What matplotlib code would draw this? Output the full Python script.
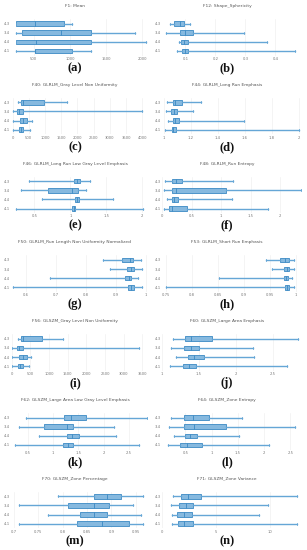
import matplotlib
matplotlib.use("Agg")
import matplotlib.pyplot as plt

W, H = 307, 550
fig = plt.figure(figsize=(W / 100, H / 100), dpi=100)

# category labels, top to bottom
categories = ["4-3", "3-4", "4-4", "4-1"]

titles = [
    "F1: Mean", "F12: Shape_Sphericity",
    "F40: GLRLM_Gray Level Non Uniformity", "F44: GLRLM_Long Run Emphasis",
    "F46: GLRLM_Long Run Low Gray Level Emphasis", "F48: GLRLM_Run Entropy",
    "F50: GLRLM_Run Length Non Uniformity Normalized", "F53: GLRLM_Short Run Emphasis",
    "F56: GLSZM_Gray Level Non Uniformity", "F60: GLSZM_Large Area Emphasis",
    "F62: GLSZM_Large Area Low Gray Level Emphasis", "F64: GLSZM_Zone Entropy",
    "F70: GLSZM_Zone Percentage", "F71: GLSZM_Zone Variance",
]
letters = ["(a)", "(b)", "(c)", "(d)", "(e)", "(f)", "(g)",
           "(h)", "(i)", "(j)", "(k)", "(l)", "(m)", "(n)"]

# [whisker low, Q1, median, Q3, whisker high] per category (top to bottom)
f1 = [[256, 256, 514, 914, 1033], [256, 343, 881, 1287, 1894],
      [256, 256, 536, 1287, 2045], [256, 514, 522, 1024, 1287]]
f12 = [[0.050, 0.063, 0.082, 0.097, 0.116], [0.037, 0.083, 0.098, 0.125, 0.297],
       [0.080, 0.087, 0.097, 0.109, 0.373], [0.072, 0.090, 0.100, 0.110, 0.465]]
f40 = [[173, 265, 318, 975, 1666], [0, 142, 204, 327, 4000],
       [0, 235, 327, 432, 605], [0, 204, 256, 309, 534]]
f44 = [[1.022, 1.064, 1.079, 1.134, 1.272], [1.017, 1.054, 1.077, 1.099, 1.213],
       [1.032, 1.069, 1.084, 1.109, 1.596], [1.010, 1.057, 1.069, 1.092, 2.000]]
f46 = [[0.43, 1.056, 1.097, 1.14, 1.28], [0.32, 0.686, 1.03, 1.10, 1.22],
       [0.61, 1.06, 1.09, 1.12, 1.59], [0.25, 1.03, 1.05, 1.07, 2.01]]
f48 = [[0.056, 0.163, 0.24, 0.343, 1.21], [0.04, 0.163, 0.24, 1.09, 2.36],
       [0.09, 0.17, 0.21, 0.264, 1.18], [0.04, 0.123, 0.163, 0.42, 1.80]]
f50 = [[0.857, 0.920, 0.948, 0.958, 0.983], [0.882, 0.938, 0.952, 0.961, 0.986],
       [0.682, 0.932, 0.943, 0.952, 0.975], [0.559, 0.941, 0.952, 0.962, 0.988]]
f53 = [[0.943, 0.970, 0.979, 0.987, 0.996], [0.954, 0.977, 0.982, 0.987, 0.997],
       [0.851, 0.976, 0.980, 0.984, 0.993], [0.750, 0.979, 0.983, 0.987, 0.997]]
f56 = [[177, 257, 311, 820, 1383], [16, 150, 204, 303, 3420],
       [16, 204, 295, 402, 525], [16, 177, 230, 295, 472]]
f60 = [[1.15, 1.316, 1.40, 1.684, 2.85], [1.128, 1.30, 1.387, 1.505, 2.23],
       [1.193, 1.35, 1.44, 1.566, 2.255], [1.114, 1.29, 1.368, 1.466, 2.70]]
f62 = [[0.46, 1.223, 1.356, 1.652, 2.85], [0.328, 0.822, 1.27, 1.401, 2.21],
       [0.723, 1.27, 1.381, 1.514, 2.245], [0.249, 1.20, 1.29, 1.401, 2.69]]
f64 = [[0.228, 0.475, 0.652, 0.951, 1.58], [0.184, 0.475, 0.671, 1.27, 2.584],
       [0.285, 0.50, 0.584, 0.729, 1.53], [0.17, 0.405, 0.527, 0.824, 2.095]]
f70 = [[0.79, 0.865, 0.89, 0.92, 0.965], [0.71, 0.81, 0.865, 0.895, 0.945],
       [0.77, 0.835, 0.865, 0.89, 0.96], [0.71, 0.83, 0.88, 0.935, 0.965]]
f71 = [[1.0, 1.8, 2.4, 3.6, 12.5], [0.8, 1.6, 2.2, 2.9, 9.8],
       [0.9, 1.4, 2.0, 2.8, 9.0], [0.9, 1.5, 2.0, 2.9, 12.5]]

panel_data = [f1, f12, f40, f44, f46, f48, f50, f53, f56, f60, f62, f64, f70, f71]

ticks = [
    [500, 1000, 1500, 2000], [0.1, 0.2, 0.3, 0.4],
    [0, 500, 1000, 1500, 2000, 2500, 3000, 3500, 4000], [1, 1.2, 1.4, 1.6, 1.8, 2],
    [0.5, 1, 1.5, 2], [0, 0.5, 1, 1.5, 2],
    [0.6, 0.7, 0.8, 0.9, 1], [0.75, 0.8, 0.85, 0.9, 0.95, 1],
    [0, 500, 1000, 1500, 2000, 2500, 3000, 3500], [1, 1.5, 2, 2.5],
    [0.5, 1, 1.5, 2, 2.5], [0.5, 1, 1.5, 2, 2.5],
    [0.7, 0.75, 0.8, 0.85, 0.9, 0.95], [0, 5, 10],
]
xlims = [
    (194, 2077), (0.022, 0.489), (-31, 4175), (0.985, 2.024),
    (0.183, 2.079), (0.0, 2.37), (0.553, 1.007), (0.742, 1.0115),
    (-5, 3652), (1.0, 2.9), (0.18, 2.877), (0.056, 2.723),
    (0.695, 0.975), (0, 13.0),
]

FILL = "#86b9df"
EDGE = "#3a89c3"
WHISK = "#65a6d6"
ROW_H = 78.8


def px_box(left, top, right, bottom):
    return [left / W, 1 - bottom / H, (right - left) / W, (bottom - top) / H]


for i, data in enumerate(panel_data):
    row, col = divmod(i, 2)
    ty = 6 + ROW_H * row
    if col == 0:
        L, R, cx = 11.5, 148, 75
    else:
        L, R, cx = 162, 302, 227
    ax = fig.add_axes(px_box(L, ty + 13, R, ty + 49.5))
    stats = []
    for lab, (lo, q1, med, q3, hi) in zip(categories, data):
        stats.append(dict(label=lab, whislo=lo, q1=q1, med=med, q3=q3, whishi=hi, fliers=[]))
    ax.bxp(stats, positions=[4, 3, 2, 1], vert=False, widths=0.5, patch_artist=True,
           showfliers=False,
           boxprops=dict(facecolor=FILL, edgecolor=EDGE, linewidth=0.6),
           medianprops=dict(color=EDGE, linewidth=0.6),
           whiskerprops=dict(color=WHISK, linewidth=1.0),
           capprops=dict(color=WHISK, linewidth=0.6), capwidths=0.22)
    ax.set_ylim(0.5, 4.5)
    ax.set_xlim(*xlims[i])
    ax.set_xticks(ticks[i])
    ax.set_xticklabels([f"{t:g}" for t in ticks[i]])
    ax.tick_params(axis="both", labelsize=2.7, colors="#777777", length=0, pad=1)
    for s in ax.spines.values():
        s.set_visible(False)
    ax.grid(axis="x", color="#ececec", linewidth=0.4)
    ax.set_axisbelow(True)
    fig.text(cx / W, 1 - ty / H, titles[i], ha="center", va="center",
             fontsize=3.2, color="#555555")
    fig.text(cx / W, 1 - (ty + 62) / H, letters[i], ha="center", va="center",
             fontsize=9, fontweight="bold", family="Liberation Serif", color="#111111")

fig.savefig("out.png", dpi=100)
